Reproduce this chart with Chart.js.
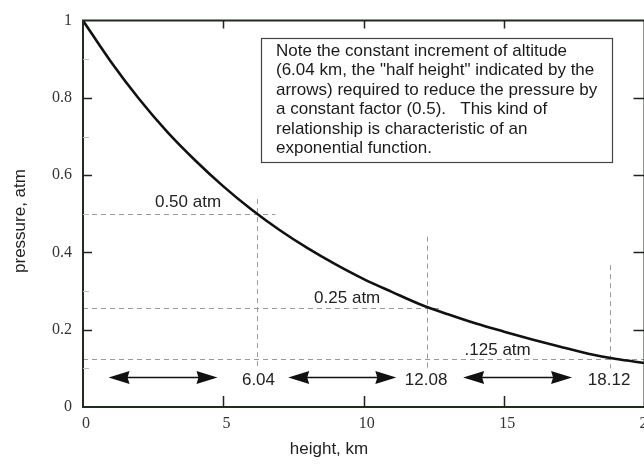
<!DOCTYPE html>
<html>
<head>
<meta charset="utf-8">
<script src="https://cdn.jsdelivr.net/npm/chart.js@4.4.0/dist/chart.umd.min.js"></script>
<style>
html, body { margin: 0; padding: 0; overflow: hidden; background: #fff; }
</style>
</head>
<body>
<canvas id="myChart" width="660" height="464"></canvas>
<script>
const ctx = document.getElementById('myChart');

// curve
const heights = [0, 1, 2, 3, 4, 5, 6, 7, 8, 9, 10, 11, 12, 13, 14, 15, 16, 17, 18, 19, 20];
const pressures = [1.000, 0.893, 0.797, 0.712, 0.638, 0.571, 0.511, 0.458, 0.411, 0.369, 0.331,
                   0.298, 0.266, 0.240, 0.216, 0.195, 0.175, 0.156, 0.138, 0.124, 0.114];

const xTickLabels = ['0', '5', '10', '15', '20'];
const yTickLabels = ['0', '0.2', '0.4', '0.6', '0.8', '1'];

// dashed guides (km / atm)
const halfLevels = [0.5, 0.255, 0.125];
const levelEnds = [6.85, 12.79, 20];
const halfHeights = [6.2, 12.27, 18.78];
const guideTops = [0.538, 0.441, 0.367];
const guideBottom = 0.10;
const levelLabels = ['0.50 atm', '0.25 atm', '.125 atm'];
const levelLabelX = [3.74, 9.41, 14.77];
const levelLabelY = [0.529, 0.281, 0.148];

// arrows and their labels
const arrowFrom = [0.91, 7.31, 13.54];
const arrowTo = [4.79, 11.16, 17.42];
const arrowY = 0.078;
const heightLabels = ['6.04', '12.08', '18.12'];
const heightLabelX = [6.25, 12.22, 18.74];
const heightLabelY = 0.069;

const noteLines = [
  'Note the constant increment of altitude',
  '(6.04 km, the "half height" indicated by the',
  'arrows) required to reduce the pressure by',
  'a constant factor (0.5).   This kind of',
  'relationship is characteristic of an',
  'exponential function.'
];

const sans = '"Liberation Sans", Arial, Helvetica, sans-serif';
const serif = '"Liberation Serif", "Times New Roman", serif';

function arrowHead(c, tipX, tipY, dir) {
  c.beginPath();
  c.moveTo(tipX, tipY);
  c.lineTo(tipX - dir * 21, tipY - 6.5);
  c.lineTo(tipX - dir * 19, tipY);
  c.lineTo(tipX - dir * 21, tipY + 6.5);
  c.closePath();
  c.fill();
}

const extras = {
  id: 'extras',
  beforeDatasetsDraw(chart) {
    const c = chart.ctx, x = chart.scales.x, y = chart.scales.y;
    c.save();
    c.strokeStyle = '#9a9a9a';
    c.lineWidth = 1;
    c.setLineDash([5, 4]);
    for (let i = 0; i < halfLevels.length; i++) {
      const py = Math.round(y.getPixelForValue(halfLevels[i])) + 0.5;
      c.beginPath();
      c.moveTo(x.getPixelForValue(0), py);
      c.lineTo(x.getPixelForValue(levelEnds[i]), py);
      c.stroke();
      const px = Math.round(x.getPixelForValue(halfHeights[i])) + 0.5;
      c.beginPath();
      c.moveTo(px, y.getPixelForValue(guideTops[i]));
      c.lineTo(px, y.getPixelForValue(guideBottom));
      c.stroke();
    }
    c.restore();
  },
  afterDatasetsDraw(chart) {
    const c = chart.ctx, x = chart.scales.x, y = chart.scales.y;
    const a = chart.chartArea;
    c.save();

    // frame
    c.strokeStyle = '#1f2d1f';
    c.lineWidth = 2;
    c.beginPath();
    c.moveTo(a.left, a.top);
    c.lineTo(a.right, a.top);
    c.lineTo(a.right, a.bottom);
    c.lineTo(a.left, a.bottom);
    c.closePath();
    c.stroke();

    // ticks, inside
    c.lineWidth = 1.5;
    c.strokeStyle = '#222';
    [5, 10, 15].forEach(v => {
      const px = Math.round(x.getPixelForValue(v)) + 0.5;
      c.beginPath();
      c.moveTo(px, a.bottom); c.lineTo(px, a.bottom - 11);
      c.moveTo(px, a.top); c.lineTo(px, a.top + 8);
      c.stroke();
    });
    [0.2, 0.4, 0.6, 0.8].forEach(v => {
      const py = Math.round(y.getPixelForValue(v)) + 0.5;
      c.beginPath();
      c.moveTo(a.left, py); c.lineTo(a.left + 9, py);
      c.moveTo(a.right, py); c.lineTo(a.right - 11, py);
      c.stroke();
    });
    c.strokeStyle = '#bbb';
    c.lineWidth = 1;
    [0.1, 0.3, 0.5, 0.7, 0.9].forEach(v => {
      const py = Math.round(y.getPixelForValue(v)) + 0.5;
      c.beginPath();
      c.moveTo(a.left, py); c.lineTo(a.left + 6, py);
      c.stroke();
    });

    // arrows
    c.strokeStyle = '#111';
    c.fillStyle = '#111';
    c.lineWidth = 1.3;
    const ay = Math.round(y.getPixelForValue(arrowY)) + 0.5;
    for (let i = 0; i < arrowFrom.length; i++) {
      const x0 = x.getPixelForValue(arrowFrom[i]);
      const x1 = x.getPixelForValue(arrowTo[i]);
      c.beginPath();
      c.moveTo(x0 + 10, ay); c.lineTo(x1 - 10, ay);
      c.stroke();
      arrowHead(c, x0, ay, -1);
      arrowHead(c, x1, ay, 1);
    }

    // labels
    c.fillStyle = '#222';
    c.font = '17px ' + sans;
    c.textAlign = 'center';
    c.textBaseline = 'middle';
    for (let i = 0; i < levelLabels.length; i++) {
      c.fillText(levelLabels[i], x.getPixelForValue(levelLabelX[i]), y.getPixelForValue(levelLabelY[i]));
    }
    for (let i = 0; i < heightLabels.length; i++) {
      c.fillText(heightLabels[i], x.getPixelForValue(heightLabelX[i]), y.getPixelForValue(heightLabelY));
    }

    // note box
    c.fillStyle = '#fff';
    c.fillRect(261, 38, 351, 124);
    c.strokeStyle = '#444';
    c.lineWidth = 1.2;
    c.strokeRect(261.5, 38.5, 351, 124);
    c.fillStyle = '#1a1a1a';
    c.textAlign = 'left';
    c.textBaseline = 'alphabetic';
    noteLines.forEach((t, i) => c.fillText(t, 276, 56 + i * 19.4));

    // axis titles
    c.textAlign = 'center';
    c.textBaseline = 'middle';
    c.fillStyle = '#222';
    c.fillText('height, km', 329, 449);
    c.translate(20, 221);
    c.rotate(-Math.PI / 2);
    c.fillText('pressure, atm', 0, 0);

    c.restore();
  }
};

function draw() {
  new Chart(ctx, {
    type: 'line',
    data: {
      datasets: [{
        data: heights.map((h, i) => ({x: h, y: pressures[i]})),
        borderColor: '#111',
        borderWidth: 2.6,
        pointRadius: 0,
        cubicInterpolationMode: 'monotone',
        fill: false
      }]
    },
    options: {
      responsive: false,
      animation: false,
      devicePixelRatio: 1,
      layout: { padding: { left: 0, right: 15.5, top: 13, bottom: 0 } },
      plugins: { legend: { display: false }, tooltip: { enabled: false } },
      scales: {
        x: {
          type: 'linear',
          min: 0, max: 20,
          grid: { display: false, drawTicks: false },
          border: { display: false },
          ticks: {
            stepSize: 5, padding: 7, labelOffset: 3, maxRotation: 0, color: '#333',
            font: { family: serif, size: 16 },
            callback: (v, i) => xTickLabels[i]
          },
          afterFit(scale) { scale.height = 57; }
        },
        y: {
          min: 0, max: 1,
          grid: { display: false, drawTicks: false },
          border: { display: false },
          ticks: {
            stepSize: 0.2, padding: 11, color: '#333',
            font: { family: serif, size: 16 },
            callback: (v, i) => yTickLabels[i]
          },
          afterFit(scale) { scale.width = 83; }
        }
      }
    },
    plugins: [extras]
  });
}
draw();
</script>
</body>
</html>
